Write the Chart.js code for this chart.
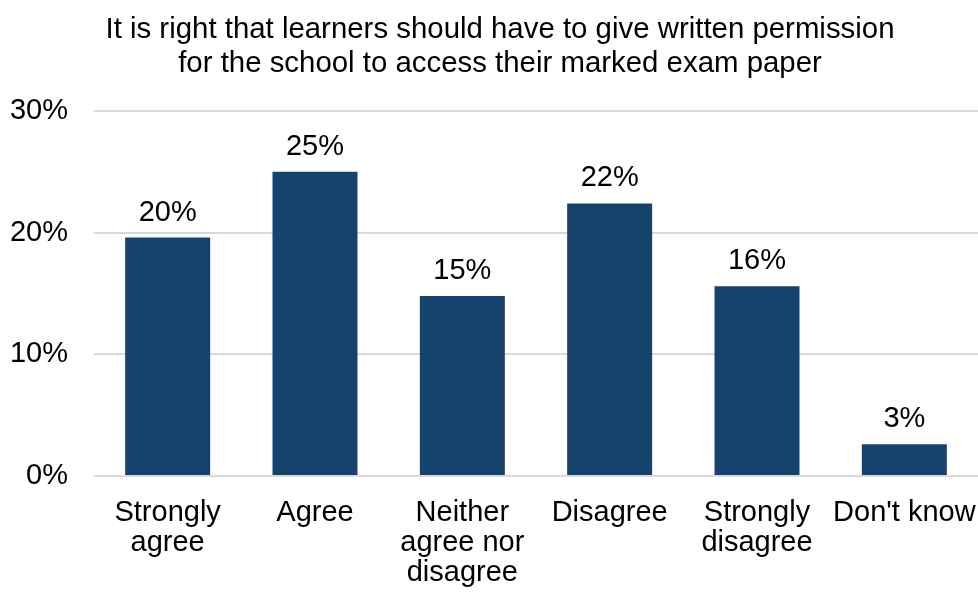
<!DOCTYPE html>
<html>
<head>
<meta charset="utf-8">
<title>Written permission survey</title>
<script src="https://cdn.jsdelivr.net/npm/chart.js@4/dist/chart.umd.min.js"></script>
<style>
  body { margin: 0; background: #fff; }
  canvas { display: block; }
</style>
</head>
<body>
<canvas id="chart1" width="978" height="592"></canvas>
<script>
// survey answers
const categories = [
  ["Strongly", "agree"],
  "Agree",
  ["Neither", "agree nor", "disagree"],
  "Disagree",
  ["Strongly", "disagree"],
  "Don't know"
];
const shares = [19.6, 25.0, 14.8, 22.4, 15.6, 2.6];
const yTicks = [0, 10, 20, 30];
const titleLines = [
  "It is right that learners should have to give written permission",
  "for the school to access their marked exam paper"
];

const barColour = "#15436d";
const fontFamily = "'Liberation Sans', Arial, sans-serif";

Chart.defaults.font.family = fontFamily;
Chart.defaults.color = "#000";

// percentage above each bar
const valueLabels = {
  id: "valueLabels",
  afterDatasetsDraw(chart) {
    const ctx = chart.ctx;
    const meta = chart.getDatasetMeta(0);
    ctx.save();
    ctx.font = "29px " + fontFamily;
    ctx.fillStyle = "#000";
    ctx.textAlign = "center";
    ctx.textBaseline = "alphabetic";
    meta.data.forEach(function (bar, i) {
      ctx.fillText(Math.round(shares[i]) + "%", bar.x, bar.y - 17);
    });
    ctx.restore();
  }
};

// keep the title centred a little right of the canvas middle
const titleShift = {
  id: "titleShift",
  afterLayout(chart) {
    if (chart.titleBlock) chart.titleBlock.left += 12;
  }
};

let myChart1 = document.getElementById("chart1").getContext("2d");

let chart1 = new Chart(myChart1, {
  type: "bar",
  data: {
    labels: categories,
    datasets: [{
      data: shares,
      backgroundColor: barColour,
      borderWidth: 0,
      categoryPercentage: 1,
      barPercentage: 0.577
    }]
  },
  options: {
    responsive: false,
    animation: false,
    layout: {
      padding: { left: 10, right: 0, top: 0, bottom: -18 }
    },
    plugins: {
      legend: { display: false },
      tooltip: { enabled: false },
      title: {
        display: true,
        text: titleLines,
        color: "#000",
        font: { size: 29.4, weight: "normal", lineHeight: "34px" },
        padding: { top: 13, bottom: 30 }
      }
    },
    scales: {
      x: {
        afterFit(scale) {
          scale.paddingLeft = 0;
          scale.paddingRight = 0;
        },
        grid: { display: false, drawTicks: false },
        border: { display: false },
        ticks: {
          maxRotation: 0,
          autoSkip: false,
          padding: 22,
          font: { size: 29, lineHeight: "30px" }
        }
      },
      y: {
        min: 0,
        max: 30,
        afterFit(scale) { scale.width = 84; },
        afterBuildTicks(scale) {
          scale.ticks = yTicks.map(function (v) { return { value: v }; });
        },
        grid: { color: "#d9d9d9", lineWidth: 2, drawTicks: false },
        border: { display: false },
        ticks: {
          padding: 26,
          font: { size: 29 },
          callback: function (v) { return v + "%"; }
        }
      }
    }
  },
  plugins: [valueLabels, titleShift]
});
</script>
</body>
</html>
